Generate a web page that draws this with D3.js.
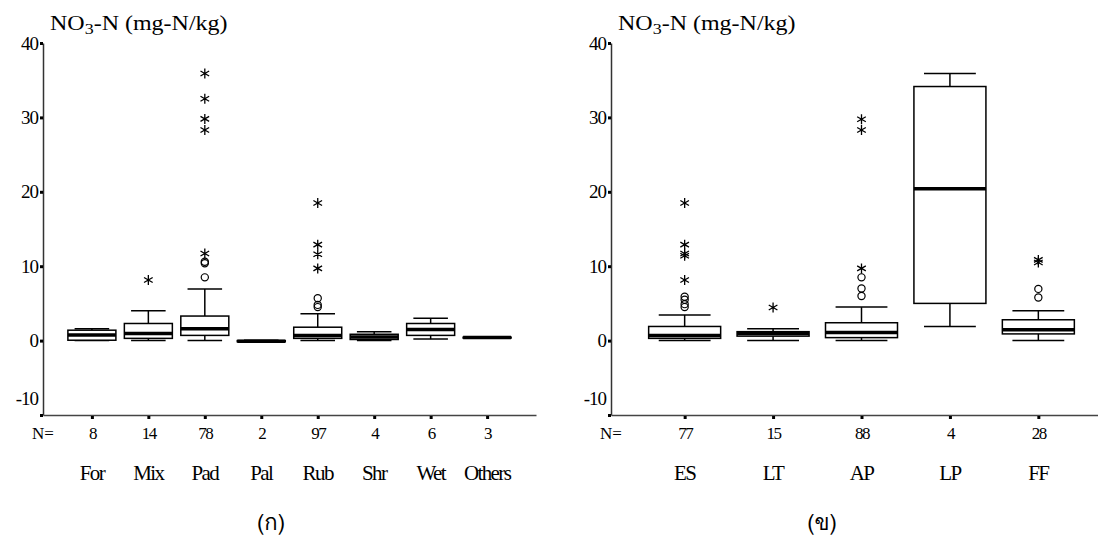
<!DOCTYPE html>
<html>
<head>
<meta charset="utf-8">
<script src="https://cdn.jsdelivr.net/npm/d3@7"></script>
<style>
  body { margin: 0; background: #fff; }
  svg text { fill: #000; }
</style>
</head>
<body>
<svg id="chart" width="1098" height="553"></svg>
<script>
// ---- data: left panel (land use) ----
const leftCats = ["For", "Mix", "Pad", "Pal", "Rub", "Shr", "Wet", "Others"];
const leftN = [8, 14, 78, 2, 97, 4, 6, 3];
const leftMin = [0, 0, 0, -0.2, 0, 0, 0.2, 0.3];
const leftQ1 = [0.05, 0.3, 0.7, -0.15, 0.3, 0.15, 0.7, 0.35];
const leftMed = [0.75, 0.95, 1.6, -0.1, 0.7, 0.5, 1.5, 0.4];
const leftQ3 = [1.4, 2.3, 3.3, 0.0, 1.8, 0.85, 2.3, 0.45];
const leftMax = [1.6, 4.0, 6.95, 0.05, 3.6, 1.2, 3.0, 0.5];
const leftCircles = [[], [], [8.5, 10.4, 10.6], [], [4.5, 4.8, 5.7], [], [], []];
const leftStars = [[], [8.15], [11.7, 28.3, 29.8, 32.5, 35.9], [], [9.7, 11.6, 12.9, 18.5], [], [], []];

// ---- data: right panel (soil group) ----
const rightCats = ["ES", "LT", "AP", "LP", "FF"];
const rightN = [77, 15, 88, 4, 28];
const rightMin = [0, 0, 0, 1.9, 0];
const rightQ1 = [0.3, 0.6, 0.4, 5.0, 0.9];
const rightMed = [0.7, 0.95, 1.1, 20.4, 1.45];
const rightQ3 = [1.9, 1.2, 2.4, 34.15, 2.8];
const rightMax = [3.45, 1.6, 4.5, 35.9, 4.0];
const rightCircles = [[4.5, 4.9, 5.5, 5.9], [], [6.0, 7.0, 8.5], [], [5.8, 6.95]];
const rightStars = [[8.15, 11.4, 11.7, 12.9, 18.5], [4.45], [9.7, 28.3, 29.75], [], [10.5, 10.85]];

const yTicks = [40, 30, 20, 10, 0, -10];

const SERIF = "'Liberation Serif', 'Times New Roman', Times, serif";
const THAI = "'Garuda', 'Loma', 'Norasi', 'Noto Sans Thai Looped', 'Noto Serif Thai', 'Noto Sans Thai', 'Noto Sans', sans-serif";
const svg = d3.select("#chart");
const y = d3.scaleLinear().domain([-10, 40]).range([415, 43]);

function drawPanel(p) {
  const g = svg.append("g").attr("font-family", SERIF);
  const x = d3.scalePoint().domain(p.cats).range(p.xRange).padding(p.pad);
  const axisX = p.xRange[0];

  // y axis
  const yAxis = g.append("g")
    .attr("transform", `translate(${axisX},0)`)
    .call(d3.axisLeft(y).tickValues(yTicks).tickFormat(d => String(d))
      .tickSize(3).tickSizeOuter(0).tickPadding(2));
  yAxis.attr("font-family", SERIF);
  yAxis.select(".domain").attr("stroke", "#333").attr("stroke-width", 1.5);
  yAxis.selectAll(".tick line").attr("stroke", "#000").attr("stroke-width", 3);
  yAxis.selectAll(".tick text")
    .attr("font-size", 19).attr("letter-spacing", -1)
    .style("font-family", SERIF)
    .attr("dy", d => d === -10 ? "-0.55em" : "0.32em");

  // x axis, N counts as tick labels
  const xAxis = g.append("g")
    .attr("transform", `translate(0,${y(-10)})`)
    .call(d3.axisBottom(x).tickSize(3).tickSizeOuter(0)
      .tickFormat((d, i) => p.n[i]).tickPadding(9));
  xAxis.attr("font-family", SERIF);
  xAxis.select(".domain").attr("stroke", "#444").attr("stroke-width", 1.5);
  xAxis.selectAll(".tick line").attr("stroke", "#000").attr("stroke-width", 3).attr("transform", "translate(0,1)");
  xAxis.selectAll(".tick text")
    .attr("font-size", 17).attr("letter-spacing", -1.5)
    .style("font-family", SERIF);

  g.append("text")
    .attr("x", axisX).attr("y", 433)
    .attr("text-anchor", "middle").attr("dy", "0.35em")
    .attr("font-size", 17)
    .style("font-family", SERIF)
    .text("N=");

  // category names
  g.selectAll(".cat")
    .data(p.cats)
    .join("text")
    .attr("class", "cat")
    .attr("x", d => x(d)).attr("y", 473)
    .attr("dy", "0.35em")
    .attr("text-anchor", "middle")
    .attr("font-size", 21).attr("letter-spacing", -1.6)
    .style("font-family", SERIF)
    .text(d => d);

  // title
  const t = g.append("text")
    .attr("transform", `translate(${axisX + 7},30) scale(1.2,1)`)
    .attr("font-size", 20)
    .style("font-family", SERIF);
  t.append("tspan").text("NO");
  t.append("tspan").attr("font-size", 15).attr("dy", 4).text("3");
  t.append("tspan").attr("dy", -4).text("-N (mg-N/kg)");

  // boxes
  const bw = p.boxW, cw = p.boxW * 0.72;
  const boxes = g.selectAll(".box")
    .data(p.cats)
    .join("g")
    .attr("class", "box")
    .attr("transform", d => `translate(${x(d)},0)`);

  boxes.append("line")
    .attr("y1", (d, i) => y(p.max[i])).attr("y2", (d, i) => y(p.q3[i]))
    .attr("stroke", "#000").attr("stroke-width", 1.5);
  boxes.append("line")
    .attr("y1", (d, i) => y(p.q1[i])).attr("y2", (d, i) => y(p.min[i]))
    .attr("stroke", "#000").attr("stroke-width", 1.5);
  boxes.append("line")
    .attr("x1", -cw / 2).attr("x2", cw / 2)
    .attr("y1", (d, i) => y(p.max[i])).attr("y2", (d, i) => y(p.max[i]))
    .attr("stroke", "#000").attr("stroke-width", 1.5);
  boxes.append("line")
    .attr("x1", -cw / 2).attr("x2", cw / 2)
    .attr("y1", (d, i) => y(p.min[i])).attr("y2", (d, i) => y(p.min[i]))
    .attr("stroke", "#000").attr("stroke-width", 1.5);
  boxes.append("rect")
    .attr("x", -bw / 2).attr("width", bw)
    .attr("y", (d, i) => y(p.q3[i]))
    .attr("height", (d, i) => y(p.q1[i]) - y(p.q3[i]))
    .attr("fill", "#fff").attr("stroke", "#000").attr("stroke-width", 1.5);
  boxes.append("line")
    .attr("x1", -bw / 2).attr("x2", bw / 2)
    .attr("y1", (d, i) => y(p.med[i])).attr("y2", (d, i) => y(p.med[i]))
    .attr("stroke", "#000").attr("stroke-width", 3.5);

  // outliers
  boxes.each(function (d, i) {
    const b = d3.select(this);
    b.selectAll("circle")
      .data(p.circles[i])
      .join("circle")
      .attr("cy", v => y(v)).attr("r", 3.6)
      .attr("fill", "none").attr("stroke", "#000").attr("stroke-width", 1.2);
    b.selectAll(".star")
      .data(p.stars[i])
      .join("path")
      .attr("class", "star")
      .attr("transform", v => `translate(0,${y(v)})`)
      .attr("d", d3.symbol(d3.symbolAsterisk, 70))
      .attr("fill", "none").attr("stroke", "#000").attr("stroke-width", 1.3);
  });

  // caption
  g.append("text")
    .attr("x", p.capX).attr("y", 522)
    .attr("dy", "0.35em").attr("text-anchor", "middle")
    .attr("font-size", 22)
    .style("font-family", THAI)
    .text(p.caption);
}

drawPanel({
  cats: leftCats, n: leftN, min: leftMin, q1: leftQ1, med: leftMed, q3: leftQ3, max: leftMax,
  circles: leftCircles, stars: leftStars,
  xRange: [43, 536], pad: 0.866, boxW: 48, capX: 271, caption: "(ก)"
});

drawPanel({
  cats: rightCats, n: rightN, min: rightMin, q1: rightQ1, med: rightMed, q3: rightQ3, max: rightMax,
  circles: rightCircles, stars: rightStars,
  xRange: [611, 1112], pad: 0.833, boxW: 72, capX: 822, caption: "(ข)"
});
</script>
</body>
</html>
